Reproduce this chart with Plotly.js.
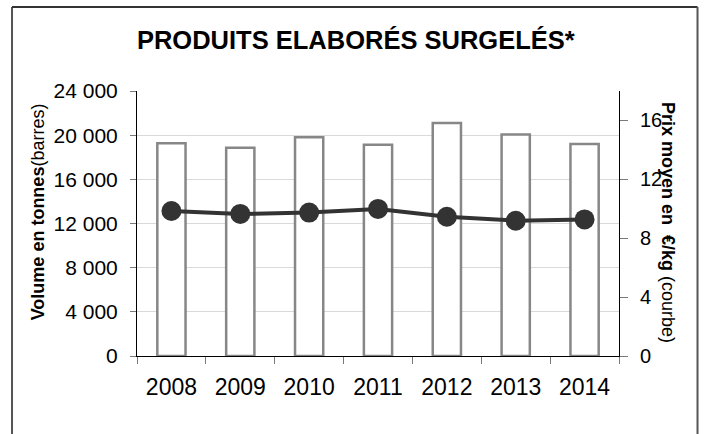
<!DOCTYPE html>
<html>
<head>
<meta charset="utf-8">
<script src="https://cdn.plot.ly/plotly-3.0.1.min.js"></script>
<style>
  html, body { margin: 0; padding: 0; background: #ffffff; }
  #chart { width: 706px; height: 434px; }
</style>
</head>
<body>
<div id="chart"></div>
<script>
// ---- data ----
var years = ['2008', '2009', '2010', '2011', '2012', '2013', '2014'];
var volumeTonnes = [19270, 18870, 19810, 19140, 21100, 20050, 19200];
var prixEuroKg = [9.85, 9.65, 9.74, 9.99, 9.46, 9.19, 9.28];
var leftTickVals = [0, 4000, 8000, 12000, 16000, 20000, 24000];
var leftTickText = ['0', '4\u00a0000', '8\u00a0000', '12\u00a0000', '16\u00a0000', '20\u00a0000', '24\u00a0000'];
var rightTickVals = [0, 4, 8, 12, 16];
var rightTickText = ['0', '4', '8', '12', '16'];
var titleText = 'PRODUITS ELABORÉS SURGELÉS*';
var leftTitle = '<b>Volume en tonnes</b>(barres)';
var rightTitle = '<b>Prix moyen en&nbsp; €/kg</b> (courbe)';

var FONT = 'Liberation Sans, Arial, sans-serif';

var traces = [
  {
    type: 'bar',
    x: years,
    y: volumeTonnes,
    width: 0.41,
    marker: { color: '#ffffff', line: { color: '#878787', width: 2.5 } },
    hoverinfo: 'x+y',
    showlegend: false
  },
  {
    type: 'scatter',
    mode: 'lines+markers',
    x: years,
    y: prixEuroKg,
    yaxis: 'y2',
    line: { color: '#333333', width: 4 },
    marker: { color: '#333333', size: 20 },
    showlegend: false
  }
];

var tickCol = '#7a7a7a';

var layout = {
  width: 706,
  height: 434,
  margin: { l: 137, r: 87, t: 91, b: 78, pad: 0 },
  paper_bgcolor: '#ffffff',
  plot_bgcolor: '#ffffff',
  font: { family: FONT, color: '#000000' },
  showlegend: false,
  title: {
    text: '<b>' + titleText + '</b>',
    font: { family: FONT, size: 25.5, color: '#000000' },
    xref: 'container', x: 0.504, xanchor: 'center',
    yref: 'container', y: 0.908, yanchor: 'middle'
  },
  xaxis: {
    type: 'category',
    categoryorder: 'array',
    categoryarray: years,
    range: [-0.5, 6.5],
    showline: true, linecolor: '#000000', linewidth: 1,
    ticks: 'outside', tickson: 'boundaries', ticklen: 7, tickcolor: tickCol, tickwidth: 1,
    ticklabelstandoff: 10,
    tickfont: { family: FONT, size: 23, color: '#000000' },
    showgrid: false, zeroline: false, fixedrange: true
  },
  xaxis2: {
    overlaying: 'x', anchor: 'y',
    range: [-0.5, 6.5], tick0: -0.5, dtick: 1,
    ticks: 'inside', ticklen: 6, tickcolor: tickCol, tickwidth: 1,
    showticklabels: false, showgrid: false, showline: false, zeroline: false
  },
  yaxis: {
    range: [0, 24000],
    tickvals: leftTickVals, ticktext: leftTickText,
    showline: true, linecolor: '#000000', linewidth: 1,
    ticks: 'outside', ticklen: 6, tickcolor: tickCol, tickwidth: 1,
    ticklabelstandoff: 8,
    tickfont: { family: FONT, size: 21, color: '#000000' },
    showgrid: true, gridcolor: '#d9d9d9', gridwidth: 1,
    zeroline: false, fixedrange: true
  },
  yaxis2: {
    overlaying: 'y', side: 'right', anchor: 'x',
    range: [0, 18],
    tickvals: rightTickVals, ticktext: rightTickText,
    showline: true, linecolor: '#000000', linewidth: 1,
    ticks: 'outside', ticklen: 8, tickcolor: tickCol, tickwidth: 1,
    ticklabelstandoff: 8,
    tickfont: { family: FONT, size: 20, color: '#000000' },
    showgrid: false, zeroline: false, fixedrange: true
  },
  yaxis3: {
    overlaying: 'y', side: 'left', anchor: 'x',
    range: [0, 24000], tickvals: leftTickVals,
    ticks: 'inside', ticklen: 7, tickcolor: tickCol, tickwidth: 1,
    showticklabels: false, showgrid: false, showline: false, zeroline: false
  },
  yaxis4: {
    overlaying: 'y', side: 'right', anchor: 'x',
    range: [0, 18], tickvals: rightTickVals,
    ticks: 'inside', ticklen: 6, tickcolor: tickCol, tickwidth: 1,
    showticklabels: false, showgrid: false, showline: false, zeroline: false
  },
  annotations: [
    {
      text: leftTitle, textangle: -90,
      xref: 'paper', yref: 'paper', x: -0.205, y: 0.543,
      xanchor: 'center', yanchor: 'middle', showarrow: false,
      font: { family: FONT, size: 18, color: '#000000' }
    },
    {
      text: rightTitle, textangle: 90,
      xref: 'paper', yref: 'paper', x: 1.1017, y: 0.506,
      xanchor: 'center', yanchor: 'middle', showarrow: false,
      font: { family: FONT, size: 18, color: '#000000' }
    }
  ],
  shapes: [
    { type: 'line', xref: 'paper', yref: 'paper', x0: -0.2593, x1: -0.2593, y0: -0.32, y1: 1.317,
      line: { color: '#555555', width: 2 } },
    { type: 'line', xref: 'paper', yref: 'paper', x0: -0.2593, x1: 1.1629, y0: 1.317, y1: 1.317,
      line: { color: '#333333', width: 2 } },
    { type: 'line', xref: 'paper', yref: 'paper', x0: 1.1629, x1: 1.1629, y0: -0.32, y1: 1.317,
      line: { color: '#555555', width: 2 } }
  ]
};

Plotly.newPlot('chart', traces, layout, { displayModeBar: false, staticPlot: true });
</script>
</body>
</html>
